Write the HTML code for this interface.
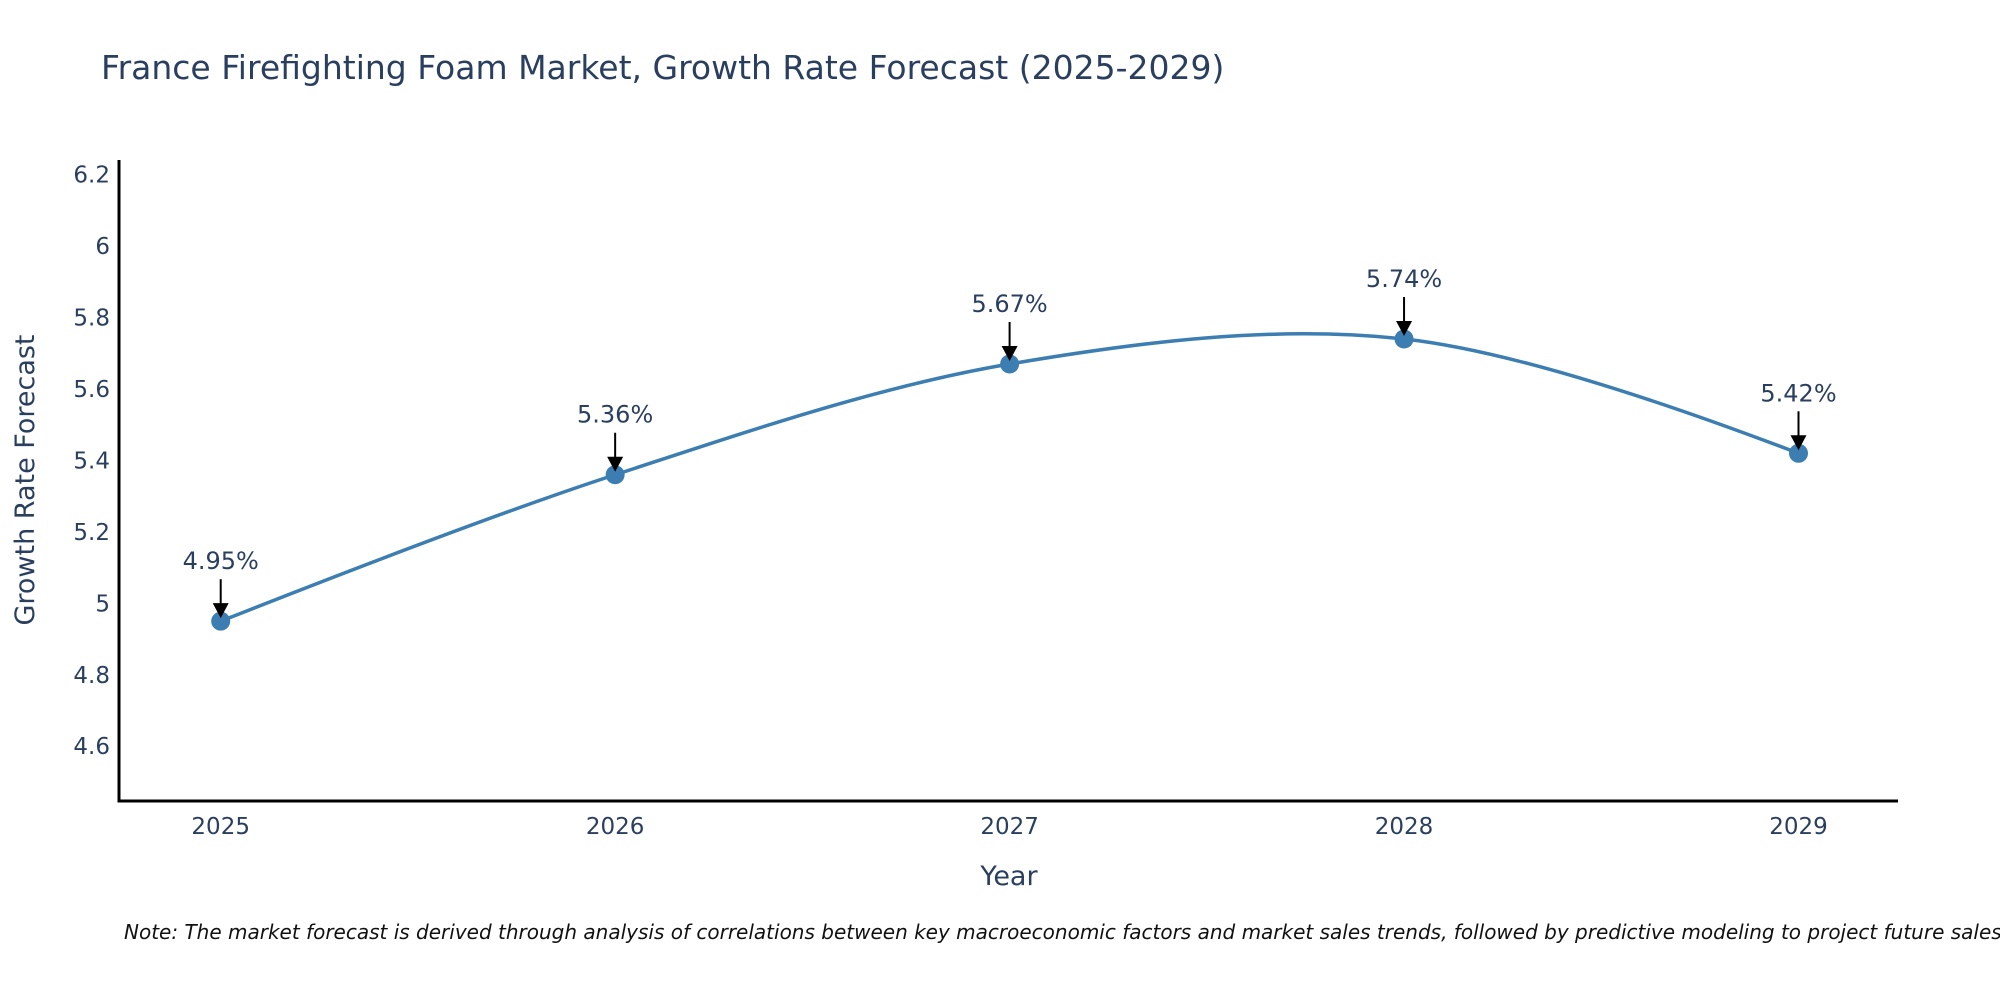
<!DOCTYPE html>
<html><head><meta charset="utf-8"><style>
body{margin:0;background:#fff;}
svg{display:block;font-family:"DejaVu Sans","Liberation Sans",sans-serif;}
</style></head><body>
<svg id="chart" width="2000" height="1000" viewBox="0 0 2000 1000" xmlns="http://www.w3.org/2000/svg">
<text x="101" y="79" font-size="33" fill="#2a3f5f">France Firefighting Foam Market, Growth Rate Forecast (2025-2029)</text>
<g id="yticks"></g>
<g id="xticks"></g>
<line x1="119" y1="160" x2="119" y2="802" stroke="#000" stroke-width="3"/>
<line x1="117.5" y1="801" x2="1898" y2="801" stroke="#000" stroke-width="3"/>
<text transform="translate(34,480) rotate(-90)" text-anchor="middle" font-size="27" fill="#2a3f5f">Growth Rate Forecast</text>
<text x="1009" y="885" text-anchor="middle" font-size="27" fill="#2a3f5f">Year</text>
<g id="series"></g>
<g id="annots"></g>
<text x="124" y="939" font-size="20" font-style="italic" fill="#111">Note: The market forecast is derived through analysis of correlations between key macroeconomic factors and market sales trends, followed by predictive modeling to project future sales</text>
</svg>
<script>
const years = [2025, 2026, 2027, 2028, 2029];
const growth = [4.95, 5.36, 5.67, 5.74, 5.42];
const labels = ["4.95%", "5.36%", "5.67%", "5.74%", "5.42%"];
const yTicks = [4.6, 4.8, 5, 5.2, 5.4, 5.6, 5.8, 6, 6.2];
const yTickLabels = ["4.6", "4.8", "5", "5.2", "5.4", "5.6", "5.8", "6", "6.2"];

const NS = "http://www.w3.org/2000/svg";
const X0 = 220.7, X1 = 1798.5, Y_A = 746.2, Y_B = 174.7;
function xs(v){ return X0 + (v - years[0]) / (years[years.length-1] - years[0]) * (X1 - X0); }
function ys(v){ return Y_A + (v - 4.6) / (6.2 - 4.6) * (Y_B - Y_A); }
function mk(tag, attrs, parent){ const e = document.createElementNS(NS, tag); for (const k in attrs) e.setAttribute(k, attrs[k]); parent.appendChild(e); return e; }

const yt = document.getElementById('yticks');
yTicks.forEach((t, i) => {
  const tx = mk('text', {x: 110, y: ys(t) + 8, 'text-anchor': 'end', 'font-size': 23, fill: '#2a3f5f'}, yt);
  
  
  tx.textContent = yTickLabels[i];
});
const xt = document.getElementById('xticks');
years.forEach(y => {
  const tx = mk('text', {x: xs(y), y: 834, 'text-anchor': 'middle', 'font-size': 23, fill: '#2a3f5f'}, xt);
  
  
  tx.textContent = String(y);
});

const pts = years.map((y, i) => [xs(y), ys(growth[i])]);
function tangent(p0, p1, p2, s){
  const d1x = p0[0]-p1[0], d1y = p0[1]-p1[1], d2x = p2[0]-p1[0], d2y = p2[1]-p1[1];
  const d1a = Math.pow(d1x*d1x + d1y*d1y, 0.25), d2a = Math.pow(d2x*d2x + d2y*d2y, 0.25);
  const nx = (d2a*d2a*d1x - d1a*d1a*d2x) * s, ny = (d2a*d2a*d1y - d1a*d1a*d2y) * s;
  const den1 = 3*d2a*(d1a+d2a), den2 = 3*d1a*(d1a+d2a);
  return [[p1[0]+nx/den1, p1[1]+ny/den1], [p1[0]-nx/den2, p1[1]-ny/den2]];
}
const tg = [];
for (let i = 1; i < pts.length - 1; i++) tg.push(tangent(pts[i-1], pts[i], pts[i+1], 1));
let d = 'M' + pts[0] + 'Q' + tg[0][0] + ' ' + pts[1];
for (let i = 2; i < pts.length - 1; i++) d += 'C' + tg[i-2][1] + ' ' + tg[i-1][0] + ' ' + pts[i];
d += 'Q' + tg[tg.length-1][1] + ' ' + pts[pts.length-1];
const ser = document.getElementById('series');
const line = mk('path', {d: d, fill: 'none', stroke: '#3c7eb1', 'stroke-width': 3.5}, ser);


pts.forEach(p => {
  const c = mk('circle', {cx: p[0], cy: p[1], r: 9.5, fill: '#3c7eb1'}, ser);
  
  
});
const an = document.getElementById('annots');
pts.forEach((p, i) => {
  const l = mk('line', {x1: p[0], y1: p[1]-42, x2: p[0], y2: p[1]-14, stroke: '#000', 'stroke-width': 2}, an);
  
  
  const h = mk('path', {d: `M${p[0]-8},${p[1]-18} L${p[0]+8},${p[1]-18} L${p[0]},${p[1]-3} Z`, fill: '#000'}, an);
  
  
  const t = mk('text', {x: p[0], y: p[1]-52, 'text-anchor': 'middle', 'font-size': 24, fill: '#2a3f5f'}, an);
  
  
  t.textContent = labels[i];
});
</script>
</body></html>
